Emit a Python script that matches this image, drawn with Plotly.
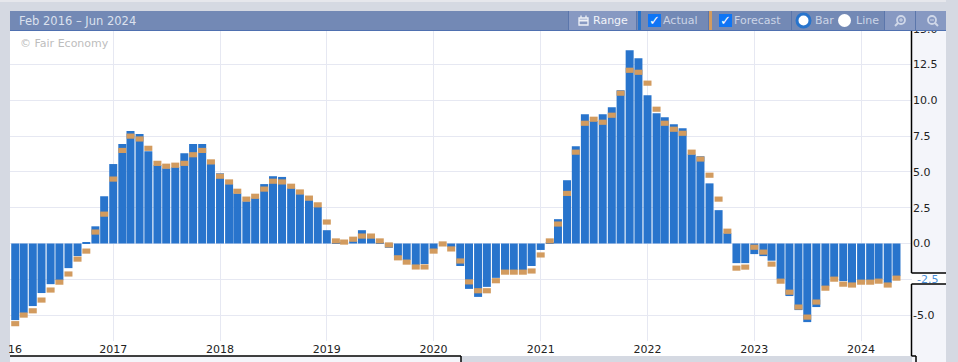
import plotly.graph_objects as go
import pandas as pd
import numpy as np

months = pd.date_range("2016-02-01", periods=100, freq="MS").strftime("%Y-%m-%d").tolist()

actual_2016 = [-5.35,-4.85,-4.37,-3.46,-2.84,-2.56,-1.72,-0.88,0.1,1.2,3.3]
actual_2017 = [5.55,6.95,7.85,7.65,6.45,5.47,5.26,5.33,6.3,6.95,6.95,5.55]
actual_2018 = [4.9,4.15,3.5,2.95,3.17,4.15,4.7,4.65,3.87,3.45,3.03,2.55]
actual_2019 = [0.93,0.05,0.05,0.17,0.93,0.38,0.05,-0.3,-0.87,-1.15,-1.5,-1.43]
actual_2020 = [-0.4,0.0,-0.25,-1.57,-3.17,-3.73,-3.03,-2.4,-1.85,-1.85,-1.85,-1.57]
actual_2021 = [-0.45,0.05,1.7,4.42,6.8,9.03,8.55,9.03,9.52,10.7,13.5,12.94]
actual_2022 = [10.36,9.1,8.82,8.33,8.05,6.24,6.1,4.2,2.33,0.72,-1.37,-1.37]
actual_2023 = [-0.74,-0.88,-1.2,-2.49,-3.67,-4.65,-5.49,-4.44,-2.98,-2.35,-2.63,-2.77]
actual_2024 = [-2.7,-2.56,-2.49,-2.77,-2.28]
actual = actual_2016+actual_2017+actual_2018+actual_2019+actual_2020+actual_2021+actual_2022+actual_2023+actual_2024

forecast_2016 = [-5.6,-5.0,-4.7,-3.95,-3.25,-2.7,-2.13,-1.09,-0.53,0.8,2.05]
forecast_2017 = [4.5,6.5,7.5,7.3,6.65,5.6,5.4,5.47,5.6,6.2,6.5,5.7]
forecast_2018 = [4.7,4.3,3.65,3.1,3.3,3.8,4.35,4.3,4.0,3.6,3.17,2.7]
forecast_2019 = [1.5,0.18,0.1,0.3,0.52,0.52,0.18,-0.1,-1.0,-1.3,-1.64,-1.64]
forecast_2020 = [-0.53,-0.03,-0.38,-1.22,-2.68,-3.3,-3.3,-2.6,-2.0,-2.0,-2.0,-1.92]
forecast_2021 = [-0.8,0.18,1.36,3.5,6.38,8.4,8.68,8.47,8.96,10.5,12.1,11.96]
forecast_2022 = [11.2,9.38,8.4,7.98,7.7,6.38,5.9,4.77,3.1,0.86,-1.72,-1.65]
forecast_2023 = [-0.26,-0.6,-1.44,-2.63,-3.4,-4.44,-5.14,-4.09,-3.12,-2.49,-2.84,-2.9]
forecast_2024 = [-2.7,-2.7,-2.63,-2.9,-2.42]
forecast = forecast_2016+forecast_2017+forecast_2018+forecast_2019+forecast_2020+forecast_2021+forecast_2022+forecast_2023+forecast_2024

year_ticks = ["2016-01-01","2017-01-01","2018-01-01","2019-01-01","2020-01-01","2021-01-01","2022-01-01","2023-01-01","2024-01-01"]
year_labels = ["2016","2017","2018","2019","2020","2021","2022","2023","2024"]
value_ticks = [-5,-2.5,0,2.5,5,7.5,10,12.5,15]
value_labels = ["-5.0","","0.0","2.5","5.0","7.5","10.0","12.5","15.0"]

BLUE, TAN = "#2874cc", "#d29b5f"
GREY, PANEL, HEAD, HEADL = "#d5d9e2", "#f4f5fa", "#7389b5", "#8799c2"
L, T, B, PW = 0, 11, 341, 912
FONT = "DejaVu Sans"

def X(x): return x / PW
def Y(y): return (B - y) / (B - T)

shapes = []
def rect(x0, y0, x1, y1, fill, layer="above", line=None, w=1, kind="rect"):
    shapes.append(dict(type=kind, xref="paper", yref="paper", x0=X(x0), x1=X(x1), y0=Y(y0), y1=Y(y1),
                       fillcolor=fill, layer=layer, line=dict(color=line or fill, width=w if line else 0)))
def seg(x0, y0, x1, y1, color="#000", w=1.5, layer="above"):
    shapes.append(dict(type="line", xref="paper", yref="paper", x0=X(x0), x1=X(x1), y0=Y(y0), y1=Y(y1),
                       layer=layer, line=dict(color=color, width=w)))

# frame
rect(10, 341, 912, 356, "#ffffff", "below")
rect(912, 31, 946, 362, PANEL, "below")
rect(912, 273, 946, 284, "#ffffff", "below")
rect(10, 356, 461, 362, PANEL, "below")
rect(0, 0, 10, 362, GREY)
rect(0, 0, 958, 11, GREY)
rect(0, 0, 958, 2, "#e6e7ec")
rect(946, 0, 958, 362, GREY)
# header
rect(10, 11, 946, 30, HEAD)
rect(10, 30, 946, 31, "#4f70b0")
rect(569, 11, 636, 30, HEADL)
rect(885, 11, 915, 30, HEADL)
rect(916, 11, 946, 30, HEADL)
for sx in (568, 636, 708, 791, 884, 915):
    seg(sx + .5, 11, sx + .5, 30, "#5b76ab", 1)
rect(638, 11, 641, 30, BLUE)
rect(709, 11, 712, 30, TAN)
# axis lines
seg(911.5, 31, 911.5, 273)
seg(911.5, 273, 946, 273)
seg(911.5, 284, 946, 284)
seg(911.5, 284, 911.5, 356)
seg(911.5, 356, 916, 356)
seg(916, 356, 916, 362)
seg(10, 356, 461, 356)
seg(461, 356, 461, 362)
# checkboxes
rect(648, 14, 661, 27, "#0f75f5")
rect(719, 14, 732, 27, "#0f75f5")
# radios
rect(797, 14, 810, 27, "#ffffff", kind="circle", line=BLUE, w=3)
rect(838, 14, 851, 27, "#ffffff", kind="circle")
# calendar icon
rect(579, 18, 588, 25, "rgba(0,0,0,0)", line="#eef1f7", w=1.3)
seg(579, 20.5, 588, 20.5, "#eef1f7", 2)
seg(581, 15.5, 581, 18, "#eef1f7", 1.3)
seg(586, 15.5, 586, 18, "#eef1f7", 1.3)
# zoom icons
rect(897, 16, 905, 24, "rgba(0,0,0,0)", kind="circle", line="#cfd7e8", w=1.8)
seg(898, 23, 895, 26, "#cfd7e8", 2)
seg(899, 20, 903, 20, "#cfd7e8", 1)
seg(901, 18, 901, 22, "#cfd7e8", 1)
rect(928, 16, 936, 24, "rgba(0,0,0,0)", kind="circle", line="#cfd7e8", w=1.8)
seg(935, 23, 938, 26, "#cfd7e8", 2)
seg(930, 20, 934, 20, "#cfd7e8", 1)

anns = []
def text(x, y, s, color, size=11, anchor="left"):
    anns.append(dict(xref="paper", yref="paper", x=X(x), y=Y(y), text=s, showarrow=False, xanchor=anchor,
                     yanchor="middle", xshift=0, borderpad=0,
                     font=dict(family=FONT, size=size, color=color)))
text(18, 21, "Feb 2016 – Jun 2024", "#dbe1ee", 11.5)
text(592, 21, "Range", "#f2f4f9", 11)
text(662, 21, "Actual", "#ccd5e7", 11)
text(733, 21, "Forecast", "#ccd5e7", 11)
text(814, 21, "Bar", "#ccd5e7", 11)
text(855, 21, "Line", "#ccd5e7", 11)
text(654.5, 20.5, "<b>✓</b>", "#ffffff", 13, "center")
text(725.5, 20.5, "<b>✓</b>", "#ffffff", 13, "center")
text(19, 44, "© Fair Economy", "#bdbdbd", 11)
text(916, 279, "-2.5", "#4a8fd8", 11)
text(6.5, 349, "16", "#222222", 11)

fig = go.Figure()
fig.add_bar(x=months, y=actual, name="Actual", marker=dict(color=BLUE, line_width=0), width=2.36e9)
thick = 0.36
fig.add_bar(x=months, y=[thick] * len(forecast), base=(np.array(forecast) - thick / 2).tolist(), name="Forecast",
            marker=dict(color=TAN, line_width=0), width=2.36e9)
fig.update_layout(
    width=958, height=362, barmode="overlay", showlegend=False, hovermode=False,
    margin=dict(l=L, r=958 - PW, t=T, b=362 - B, pad=0),
    paper_bgcolor=GREY, plot_bgcolor="#ffffff",
    font=dict(family=FONT, size=11, color="#222222"),
    shapes=shapes, annotations=anns,
    xaxis=dict(type="date", range=["2015-12-11", "2024-06-23"], tickmode="array", tickvals=year_ticks,
               ticktext=year_labels, showgrid=True, gridcolor="#e6e8f2", gridwidth=1, zeroline=False,
               showline=False, ticks="", tickfont=dict(size=11, color="#222222")),
    yaxis=dict(side="right", range=[-6.81, 16.24], tickmode="array", tickvals=value_ticks, ticktext=value_labels,
               showgrid=True, gridcolor="#e6e8f2", gridwidth=1, zeroline=False, showline=False, ticks="",
               tickfont=dict(size=11, color="#222222")),
)
fig.write_html("out.html", config=dict(displayModeBar=False),
               post_script="document.body.style.margin='0';document.body.style.overflow='hidden';")
